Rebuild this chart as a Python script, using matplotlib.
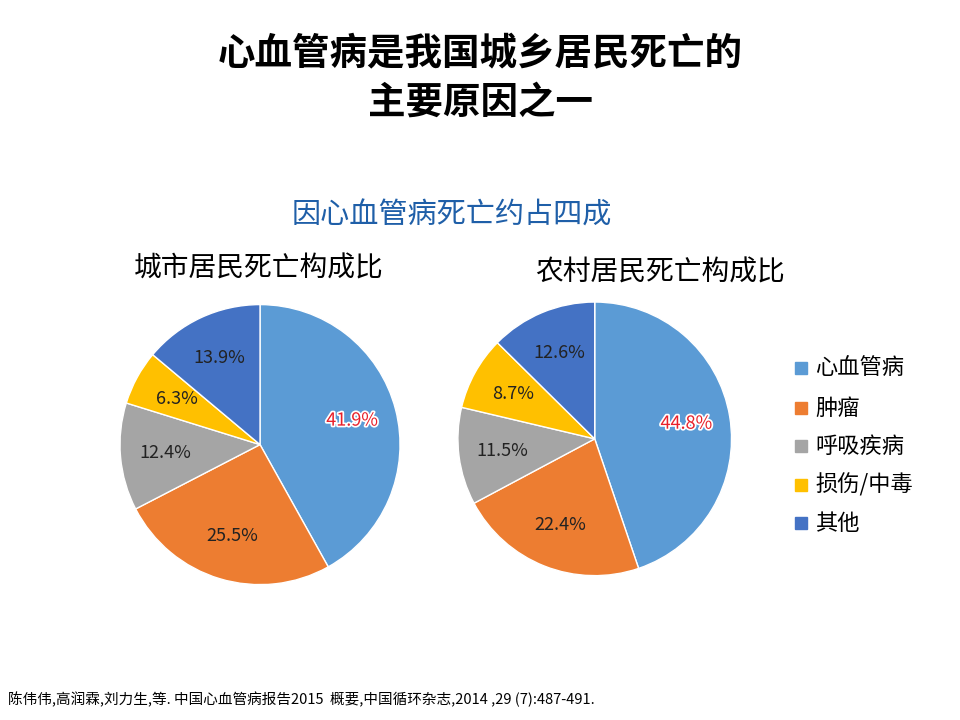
import matplotlib.pyplot as plt
import matplotlib.patheffects as pe
from matplotlib.patches import Rectangle

plt.rcParams['font.family'] = ['Noto Sans CJK SC', 'DejaVu Sans']

categories = ['心血管病', '肿瘤', '呼吸疾病', '损伤/中毒', '其他']
city_values = [41.9, 25.5, 12.4, 6.3, 13.9]
rural_values = [44.8, 22.4, 11.5, 8.7, 12.6]
colors = ['#5B9BD5', '#ED7D31', '#A5A5A5', '#FFC000', '#4472C4']

fig = plt.figure(figsize=(9.6, 7.2), dpi=100)

fig.text(0.5, 0.925, '心血管病是我国城乡居民死亡的', ha='center', va='center',
         fontsize=27, fontweight='bold')
fig.text(0.5, 0.858, '主要原因之一', ha='center', va='center',
         fontsize=27, fontweight='bold')
fig.text(0.471, 0.70, '因心血管病死亡约占四成', ha='center', va='center',
         fontsize=21, color='#1F5FA8')
fig.text(0.27, 0.627, '城市居民死亡构成比', ha='center', va='center', fontsize=20)
fig.text(0.688, 0.622, '农村居民死亡构成比', ha='center', va='center', fontsize=20)


def draw_pie(rect, values):
    ax = fig.add_axes(rect)
    wedges, texts, autotexts = ax.pie(values, colors=colors, startangle=90, counterclock=False,
                                      autopct='%.1f%%', pctdistance=0.68,
                                      wedgeprops=dict(edgecolor='white', linewidth=1),
                                      textprops=dict(fontsize=13, color='#222222'))
    autotexts[0].set_color('#E8202A')
    autotexts[0].set_path_effects([pe.withStroke(linewidth=2.5, foreground='white')])
    ax.set_xlim(-1, 1)
    ax.set_ylim(-1, 1)
    ax.set_aspect('equal')
    ax.axis('off')


draw_pie([0.125, 0.188, 0.2917, 0.389], city_values)
draw_pie([0.477, 0.2, 0.285, 0.381], rural_values)

legend_y = [368, 408, 446, 485, 523]
for cat, col, y in zip(categories, colors, legend_y):
    fy = 1 - y / 720
    fig.patches.append(Rectangle((795 / 960, fy - 0.009), 0.0125, 0.0167,
                                 color=col, transform=fig.transFigure))
    fig.text(815 / 960, fy, cat, va='center', fontsize=16)

fig.text(0.008, 0.028, '陈伟伟,高润霖,刘力生,等. 中国心血管病报告2015  概要,中国循环杂志,2014 ,29 (7):487-491.',
         fontsize=10.5, va='center')

fig.savefig('out.png', dpi=100)
